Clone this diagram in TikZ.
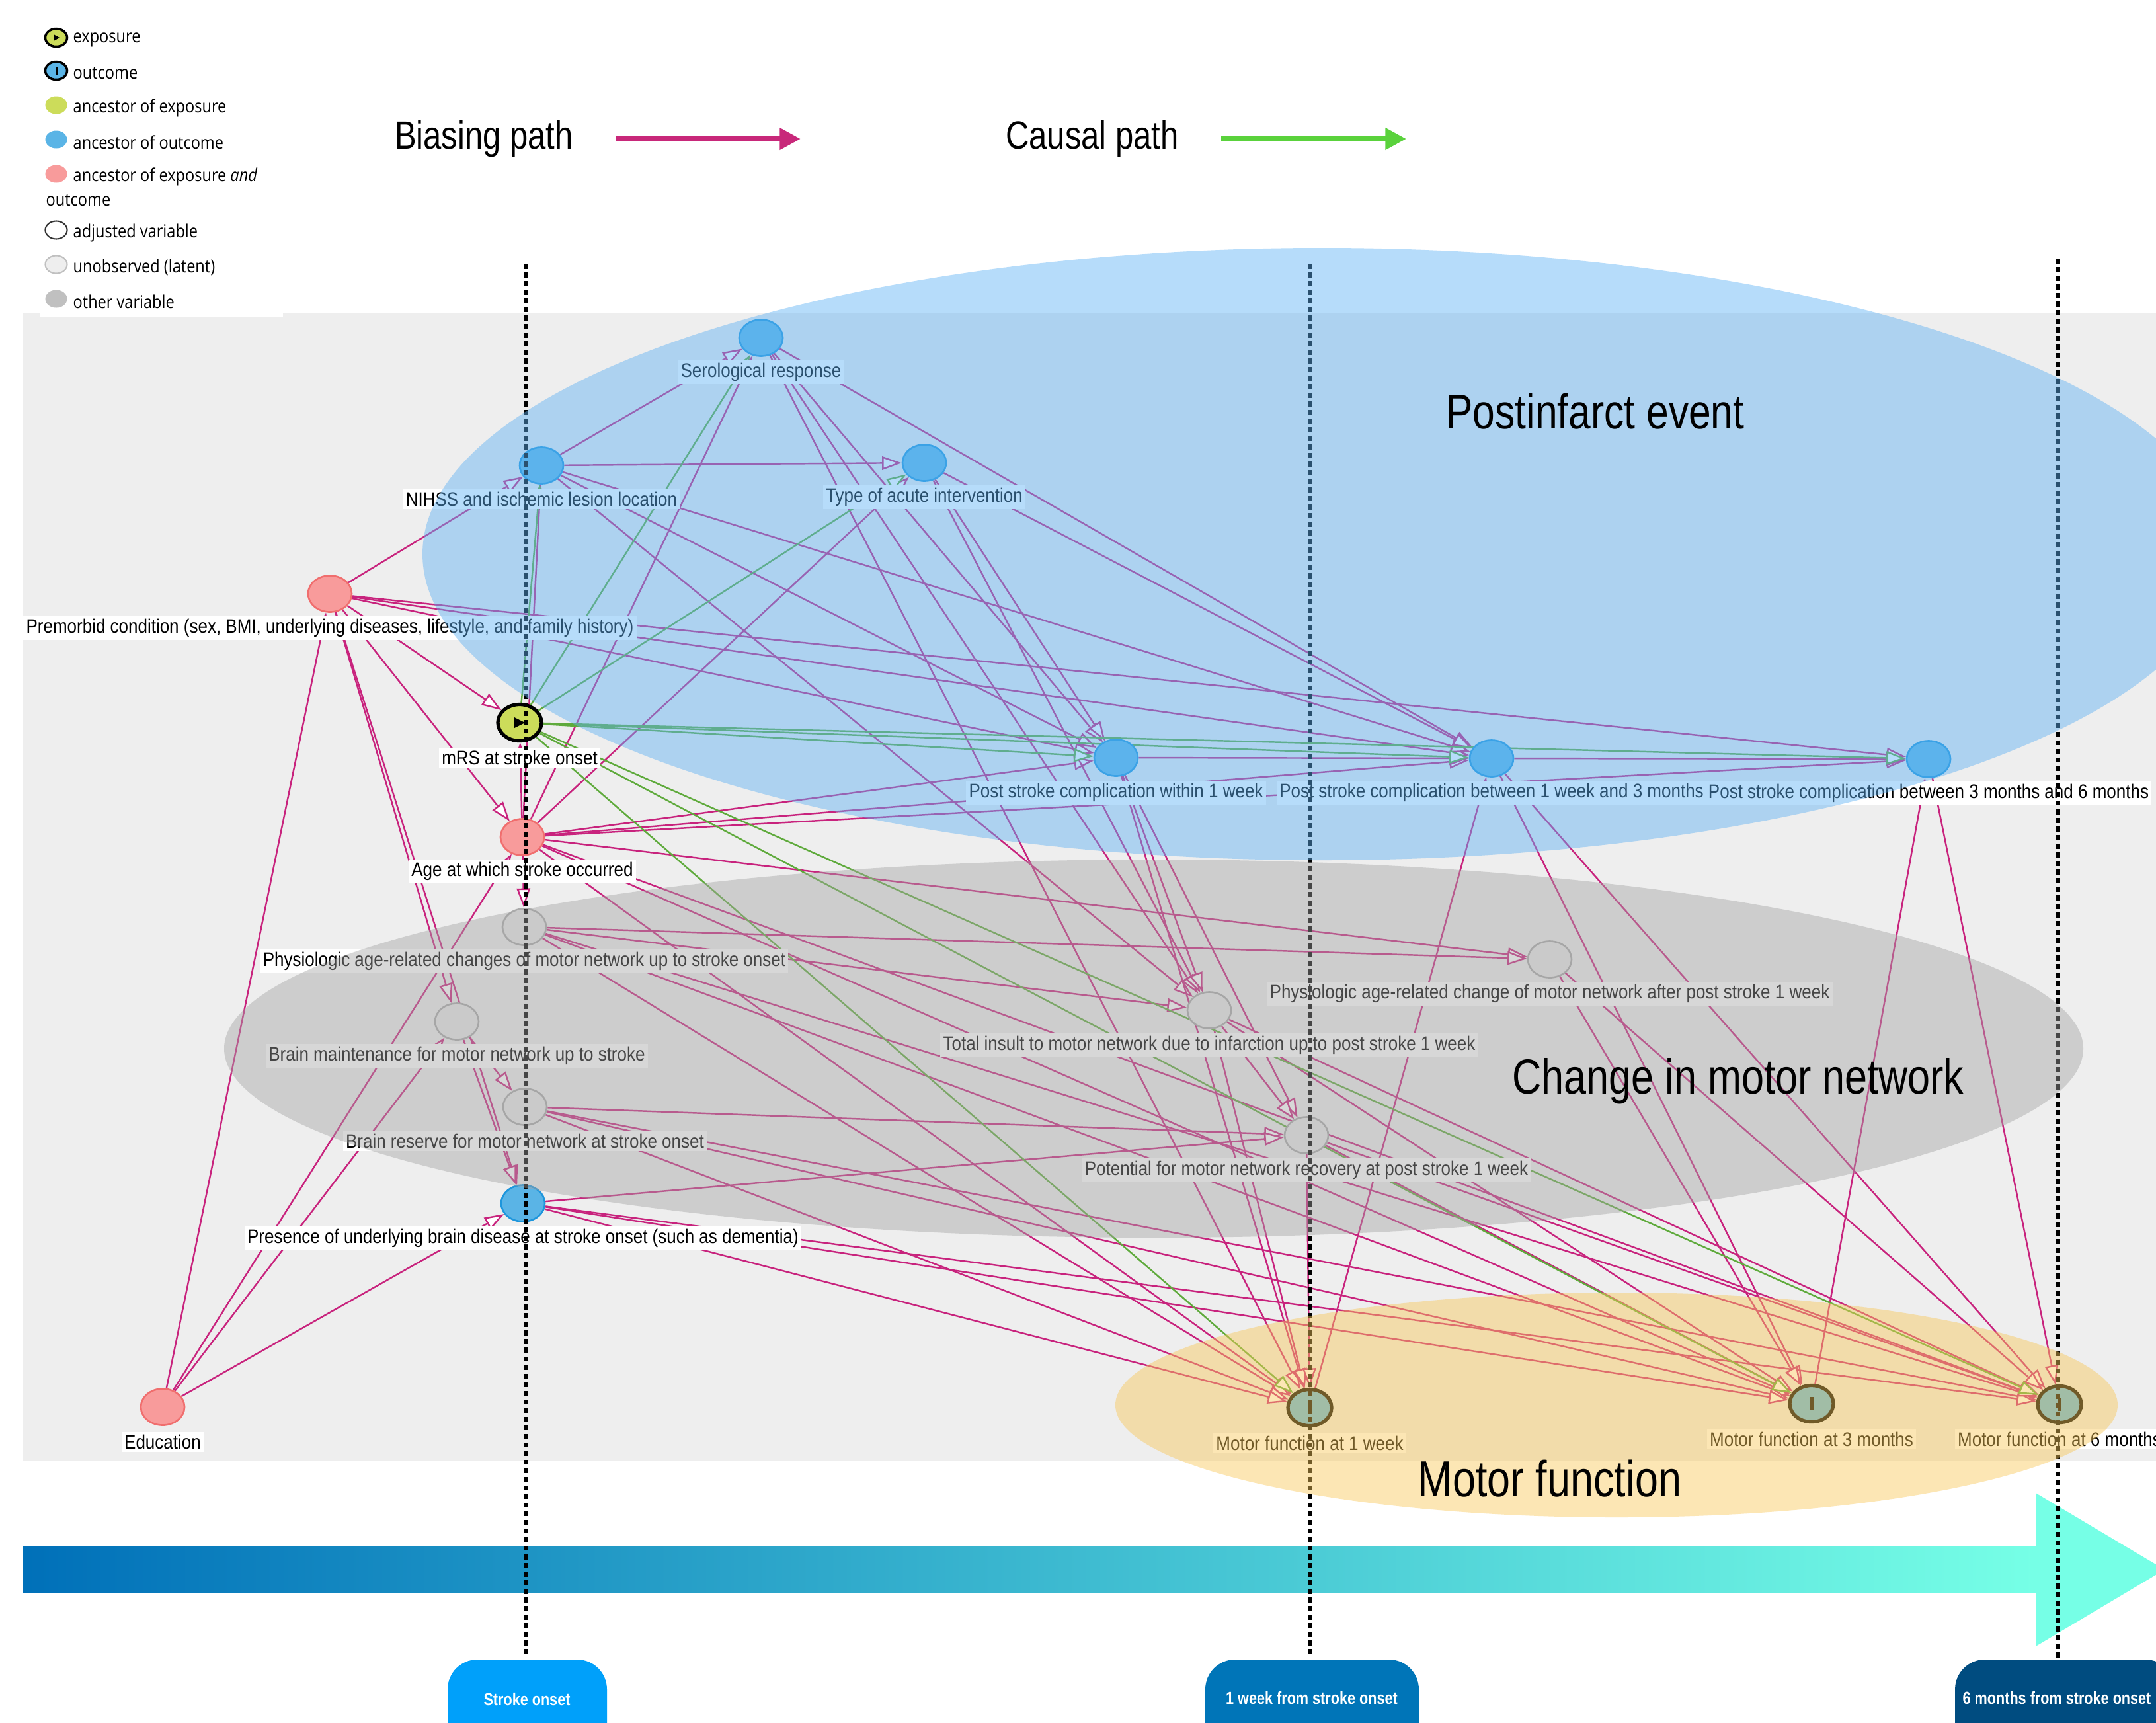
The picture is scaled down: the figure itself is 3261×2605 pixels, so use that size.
\documentclass[tikz,border=0pt]{standalone}
\usepackage{fontspec}
\setmainfont{Liberation Sans}
\newfontfamily\labfont[FakeStretch=0.88]{Liberation Sans}
\newfontfamily\titfont[FakeStretch=0.82]{Liberation Sans}
\newfontfamily\legfont[FakeStretch=0.87]{Open Sans}
\usetikzlibrary{arrows.meta,shapes.geometric}
\pgfdeclarelayer{back}
\pgfdeclarelayer{edgel}
\pgfdeclarelayer{labl}
\pgfdeclarelayer{dashl}
\pgfdeclarelayer{ovl}
\pgfdeclarelayer{topl}
\pgfsetlayers{back,edgel,main,labl,dashl,ovl,topl}
\definecolor{mag}{RGB}{200,35,125}
\definecolor{grn}{RGB}{95,170,60}
\definecolor{nblue}{RGB}{90,180,230}
\definecolor{nblueb}{RGB}{30,150,220}
\definecolor{npink}{RGB}{248,155,155}
\definecolor{npinkb}{RGB}{240,110,110}
\definecolor{nyel}{RGB}{204,220,90}
\definecolor{nlat}{RGB}{232,232,232}
\definecolor{nlatb}{RGB}{170,170,170}
\definecolor{ngray}{RGB}{192,192,192}
\definecolor{bgray}{RGB}{238,238,238}
\definecolor{ovblue}{RGB}{95,178,244}
\definecolor{ovgray}{RGB}{163,163,163}
\definecolor{ovyel}{RGB}{249,200,89}
\definecolor{biasc}{RGB}{200,40,122}
\definecolor{causc}{RGB}{90,210,60}
\definecolor{gl}{RGB}{0,112,185}
\definecolor{gr}{RGB}{118,255,230}
\definecolor{pillA}{RGB}{0,160,250}
\definecolor{pillB}{RGB}{0,117,184}
\definecolor{pillC}{RGB}{0,76,128}
\tikzset{
  vtx/.style={ellipse, minimum width=0.66cm, minimum height=0.55cm, inner sep=0pt, line width=0.75pt},
  vblue/.style={vtx, fill=nblue, draw=nblueb},
  vpink/.style={vtx, fill=npink, draw=npinkb},
  vexp/.style={vtx, fill=nyel, draw=black, line width=1.5pt},
  vout/.style={vtx, fill=nblue, draw=black, line width=1.5pt},
  vlat/.style={vtx, fill=nlat, draw=nlatb},
  lab/.style={fill=white, inner sep=1.2pt, font=\labfont\fontsize{8.4}{9.5}\selectfont},
  bias/.style={draw=mag, line width=0.7pt, -{Triangle[length=8.4pt,width=5.8pt,fill=white]}},
  caus/.style={draw=grn, line width=0.7pt, -{Triangle[length=8.4pt,width=5.8pt,fill=white]}},
  dline/.style={draw=black, line width=1.5pt, dash pattern=on 2.2pt off 1.5pt},
  legtxt/.style={anchor=west, inner sep=0pt, font=\legfont\fontsize{7.7}{9}\selectfont},
  legv/.style={ellipse, minimum width=0.33cm, minimum height=0.27cm, inner sep=0pt, line width=0.6pt},
  pilltxt/.style={text=white, font=\titfont\bfseries\fontsize{7.5}{9}\selectfont},
}
\begin{document}
\begin{tikzpicture}[x=0.01cm,y=-0.01cm]
\useasboundingbox (0,0) rectangle (3261,2605);
% ---------------- background
\begin{pgfonlayer}{back}
\fill[white] (0,0) rectangle (3261,2605);
\fill[bgray] (35,474) rectangle (3261,2209);
\fill[white] (60,0) rectangle (428,480);
% legend
\node[legv, fill=nyel, draw=black, line width=1pt] (lg1) at (85,57) {};
\fill[black] (81,52) -- (81,62) -- (90,57) -- cycle;
\node[legtxt] (lt1) at (110,60) {exposure};
\node[legv, fill=nblue, draw=black, line width=1pt] (lg2) at (85,107) {};
\fill[black] (83.5,101) rectangle (86.5,113);
\node[legtxt] (lt2) at (110,111) {outcome};
\node[legv, fill=nyel] (lg3) at (85,159) {};
\node[legtxt] (lt3) at (110,163) {ancestor of exposure};
\node[legv, fill=nblue] (lg4) at (85,211) {};
\node[legtxt] (lt4) at (110,215) {ancestor of outcome};
\node[legv, fill=npink] (lg5) at (85,263) {};
\node[legtxt] (lt5) at (110,267) {ancestor of exposure {\itshape and}};
\node[legtxt] (lt5b) at (69,303) {outcome};
\node[legv, fill=white, draw=black!80] (lg6) at (85,348) {};
\node[legtxt] (lt6) at (110,352) {adjusted variable};
\node[legv, fill=bgray, draw=ngray] (lg7) at (85,400) {};
\node[legtxt] (lt7) at (110,404) {unobserved (latent)};
\node[legv, fill=ngray] (lg8) at (85,452) {};
\node[legtxt] (lt8) at (110,456) {other variable};
% path legend
\node[font=\titfont\fontsize{17}{20}\selectfont] (bp) at (732,210) {Biasing path};
\coordinate (ba1) at (932,210);
\coordinate (ba2) at (1211,210);
\draw[biasc, line width=2.3pt, -{Triangle[length=9pt,width=9pt]}] (ba1) -- (ba2);
\node[font=\titfont\fontsize{17}{20}\selectfont] (cp) at (1652,210) {Causal path};
\coordinate (ca1) at (1847,210);
\coordinate (ca2) at (2127,210);
\draw[causc, line width=2.3pt, -{Triangle[length=9pt,width=9pt]}] (ca1) -- (ca2);
% timeline arrow
\shade[left color=gl, right color=gr] (35,2338) rectangle (3079,2409);
\fill[gr] (3079,2258) -- (3274,2374) -- (3079,2490) -- cycle;
% pills
\fill[pillA, rounded corners=0.45cm] (677,2700) -- (677,2510) -- (918,2510) -- (918,2700);
\fill[pillB, rounded corners=0.45cm] (1823,2700) -- (1823,2510) -- (2146,2510) -- (2146,2700);
\fill[pillC, rounded corners=0.45cm] (2957,2700) -- (2957,2510) -- (3290,2510) -- (3290,2700);
\node[pilltxt] (pl1) at (797,2570) {Stroke onset};
\node[pilltxt] (pl2) at (1984,2568) {1 week from stroke onset};
\node[pilltxt] (pl3) at (3111,2568) {6 months from stroke onset};
\end{pgfonlayer}
% ---------------- nodes
\node[vpink] (PM) at (499,898) {};
\node[vpink] (ED) at (246,2128) {};
\node[vpink] (AG) at (790,1266) {};
\node[vexp]  (MR) at (786,1093) {};
\node[vblue] (NI) at (819,704) {};
\node[vblue] (SR) at (1151,511) {};
\node[vblue] (TA) at (1398,700) {};
\node[vblue] (P1) at (1688,1146) {};
\node[vblue] (P2) at (2256,1147) {};
\node[vblue] (P3) at (2917,1148) {};
\node[vlat]  (PA) at (793,1402) {};
\node[vlat]  (PB) at (2344,1451) {};
\node[vlat]  (BM) at (691,1545) {};
\node[vlat]  (TI) at (1829,1528) {};
\node[vlat]  (BR) at (794,1674) {};
\node[vlat]  (PR) at (1976,1717) {};
\node[vblue] (PD) at (791,1820) {};
\node[vout]  (M1) at (1981,2129) {};
\node[vout]  (M3) at (2740,2123) {};
\node[vout]  (M6) at (3115,2124) {};
\fill[black] (778,1085) -- (778,1101) -- (794,1093) -- cycle;
\fill[black] (1978.5,2119) rectangle (1983.5,2139);
\fill[black] (2737.5,2113) rectangle (2742.5,2133);
\fill[black] (3112.5,2114) rectangle (3117.5,2134);
% ---------------- edges
\begin{pgfonlayer}{edgel}
\foreach \a/\b in {ED/PM, ED/AG, ED/BM, ED/PD,
  PM/NI, PM/MR, PM/AG, PM/P1, PM/P2, PM/P3, PM/BM, PM/PD,
  AG/MR, AG/NI, AG/SR, AG/TA, AG/P1, AG/P2, AG/P3, AG/PA, AG/PB, AG/M1, AG/M3, AG/M6,
  NI/SR, NI/TA, NI/P1, NI/P2, NI/TI,
  SR/P1, SR/P2, SR/TI, SR/M1,
  TA/P1, TA/P2, TA/TI,
  P1/P2, P1/TI, P1/PR, P1/M1,
  P2/P3, P2/M3, P2/M6, P3/M6, M1/P2, M3/P3,
  PA/PB, PA/TI, PA/M1, PA/M3, PA/M6,
  BM/BR, BM/PD,
  BR/PR, BR/M1, BR/M3, BR/M6,
  PD/PR, PD/M1, PD/M3, PD/M6,
  TI/PR, TI/M1, TI/M3, TI/M6,
  PR/M1, PR/M3, PR/M6,
  PB/M3, PB/M6}
  \draw[bias] (\a) -- (\b);
\foreach \a/\b in {MR/NI, MR/SR, MR/TA, MR/P1, MR/P2, MR/P3, MR/M1, MR/M3, MR/M6}
  \draw[caus] (\a) -- (\b);
\end{pgfonlayer}
% ---------------- labels
\begin{pgfonlayer}{labl}
\node[lab] (lSR) at (1151,563) {Serological response};
\node[lab] (lNI) at (819,755) {NIHSS and ischemic lesion location};
\node[lab] (lTA) at (1398,752) {Type of acute intervention};
\node[lab] (lPM) at (499,950) {Premorbid condition (sex, BMI, underlying diseases, lifestyle, and family history)};
\node[lab] (lMR) at (786,1146) {mRS at stroke onset};
\node[lab] (lP1) at (1688,1199) {Post stroke complication within 1 week};
\node[lab] (lP2) at (2256,1199) {Post stroke complication between 1 week and 3 months};
\node[lab] (lP3) at (2917,1200) {Post stroke complication between 3 months and 6 months};
\node[lab] (lAG) at (790,1318) {Age at which stroke occurred};
\node[lab] (lPA) at (793,1454) {Physiologic age-related changes of motor network up to stroke onset};
\node[lab] (lPB) at (2344,1503) {Physiologic age-related change of motor network after post stroke 1 week};
\node[lab] (lBM) at (691,1597) {Brain maintenance for motor network up to stroke};
\node[lab] (lTI) at (1829,1581) {Total insult to motor network due to infarction up to post stroke 1 week};
\node[lab] (lBR) at (794,1726) {Brain reserve for motor network at stroke onset};
\node[lab] (lPR) at (1976,1770) {Potential for motor network recovery at post stroke 1 week};
\node[lab] (lPD) at (791,1873) {Presence of underlying brain disease at stroke onset (such as dementia)};
\node[lab] (lED) at (246,2181) {Education};
\node[lab] (lM1) at (1981,2183) {Motor function at 1 week};
\node[lab] (lM3) at (2740,2177) {Motor function at 3 months};
\node[lab] (lM6) at (3115,2177) {Motor function at 6 months};
\end{pgfonlayer}
% ---------------- dashed time lines
\begin{pgfonlayer}{dashl}
\coordinate (d1t) at (796,399);  \coordinate (d1b) at (796,2508);
\coordinate (d2t) at (1982,399); \coordinate (d2b) at (1982,2508);
\coordinate (d3t) at (3113,391); \coordinate (d3b) at (3113,2508);
\draw[dline] (d1t) -- (d1b);
\draw[dline] (d2t) -- (d2b);
\draw[dline] (d3t) -- (d3b);
\end{pgfonlayer}
% ---------------- overlays
\begin{pgfonlayer}{ovl}
\fill[ovblue, fill opacity=0.45] (2000,838) ellipse [x radius=1361, y radius=463];
\fill[ovgray, fill opacity=0.43] (1745,1586) ellipse [x radius=1406, y radius=286];
\fill[ovyel, fill opacity=0.45] (2445,2125) ellipse [x radius=758, y radius=170];
\end{pgfonlayer}
% ---------------- titles
\begin{pgfonlayer}{topl}
\node[font=\titfont\fontsize{21}{24}\selectfont] (t1) at (2413,622) {Postinfarct event};
\node[font=\titfont\fontsize{21.2}{24}\selectfont] (t2) at (2629,1635) {Change in motor network};
\node[font=\titfont\fontsize{21.8}{24}\selectfont] (t3) at (2344,2236) {Motor function};
\end{pgfonlayer}
\end{tikzpicture}
\end{document}
